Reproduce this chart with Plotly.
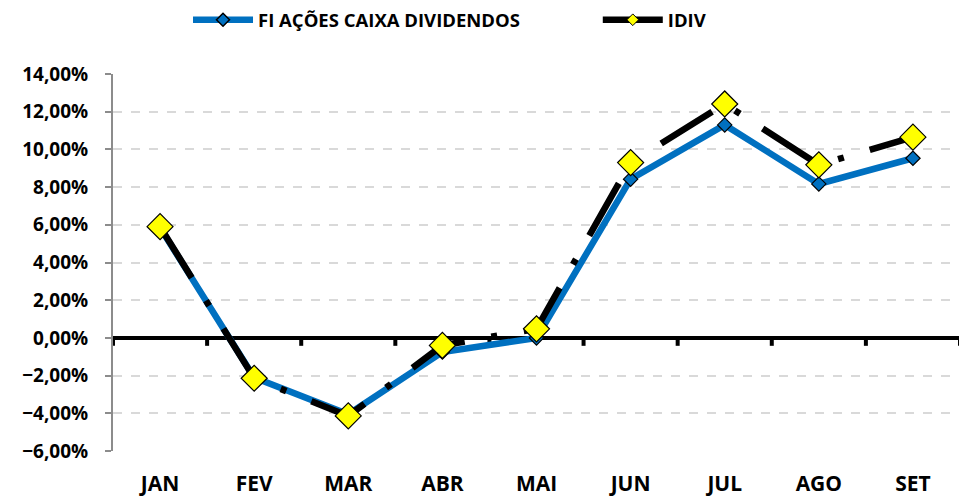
import plotly.graph_objects as go

months = ["JAN", "FEV", "MAR", "ABR", "MAI", "JUN", "JUL", "AGO", "SET"]
fi_caixa = [5.85, -2.1, -4.05, -0.75, 0.0, 8.42, 11.3, 8.17, 9.53]
idiv = [5.9, -2.14, -4.14, -0.4, 0.48, 9.3, 12.41, 9.18, 10.65]
y_ticks = [-6, -4, -2, 0, 2, 4, 6, 8, 10, 12, 14]

FONT = "Open Sans"
FI_NAME = "FI AÇÕES CAIXA DIVIDENDOS"
IDIV_NAME = "IDIV"

blue_line = dict(color="#0070C0", width=6.5)
black_line = dict(color="black", width=6.5, dash="60px,27px,6px,27px")

fig = go.Figure()
fig.add_trace(go.Scatter(
    x=months, y=[v / 100 for v in fi_caixa], name=FI_NAME, showlegend=False,
    mode="lines+markers", line=blue_line,
    marker=dict(symbol="diamond", size=11, color="#0070C0", line=dict(color="black", width=1.2)),
))
fig.add_trace(go.Scatter(
    x=months, y=[v / 100 for v in idiv], name=IDIV_NAME, showlegend=False,
    mode="lines+markers", line=black_line,
    marker=dict(symbol="diamond", size=20, color="#FFFF00", line=dict(color="black", width=1.2)),
))
# legend-only entries (small legend markers as in the reference)
fig.add_trace(go.Scatter(
    x=[None], y=[None], name=FI_NAME, legend="legend", mode="lines+markers",
    line=dict(color="#0070C0", width=6.5),
    marker=dict(symbol="diamond", size=10, color="#0070C0", line=dict(color="black", width=1.5)),
))
fig.add_trace(go.Scatter(
    x=[None], y=[None], name=IDIV_NAME, legend="legend2", mode="lines+markers",
    line=dict(color="black", width=6.5),
    marker=dict(symbol="diamond", size=9, color="#FFFF00", line=dict(color="black", width=1)),
))

# category boundary tick marks on the zero line
for i in range(len(months) + 1):
    fig.add_shape(type="line", xref="x", yref="y", x0=i - 0.5, x1=i - 0.5, y0=0, y1=-0.0042,
                  line=dict(color="black", width=4), layer="below")

legend_font = dict(family=FONT, size=18.5, color="black", weight="bold")
fig.update_layout(
    width=959, height=489,
    margin=dict(l=105, r=7, t=66, b=46, autoexpand=False),
    paper_bgcolor="white", plot_bgcolor="white",
    separators=",.",
    font=dict(family=FONT, color="black"),
    showlegend=True,
    legend=dict(orientation="h", xref="container", yref="container", x=0.1877, y=0.975,
                xanchor="left", yanchor="middle", font=legend_font,
                itemwidth=60, bgcolor="rgba(0,0,0,0)"),
    legend2=dict(orientation="h", xref="container", yref="container", x=0.615, y=0.975,
                 xanchor="left", yanchor="middle", font=legend_font,
                 itemwidth=60, bgcolor="rgba(0,0,0,0)"),
    xaxis=dict(type="category", range=[-0.5, len(months) - 0.5], showgrid=False,
               showline=False, ticks="", zeroline=False,
               tickfont=dict(family=FONT, size=21, weight="bold", color="black"),
               ticklabelstandoff=18),
    yaxis=dict(range=[-0.06, 0.14], tickvals=[v / 100 for v in y_ticks], tickformat=".2%",
               showgrid=True, gridcolor="#D9D9D9", griddash="dash", gridwidth=1.5,
               showline=True, linecolor="#8C8C8C", linewidth=2,
               ticks="outside", ticklen=6, tickcolor="#8C8C8C", tickwidth=1.5,
               zeroline=True, zerolinecolor="black", zerolinewidth=4,
               tickfont=dict(family=FONT, size=19, weight="bold", color="black"),
               ticklabelstandoff=13),
)

fig.write_html("out.html")
